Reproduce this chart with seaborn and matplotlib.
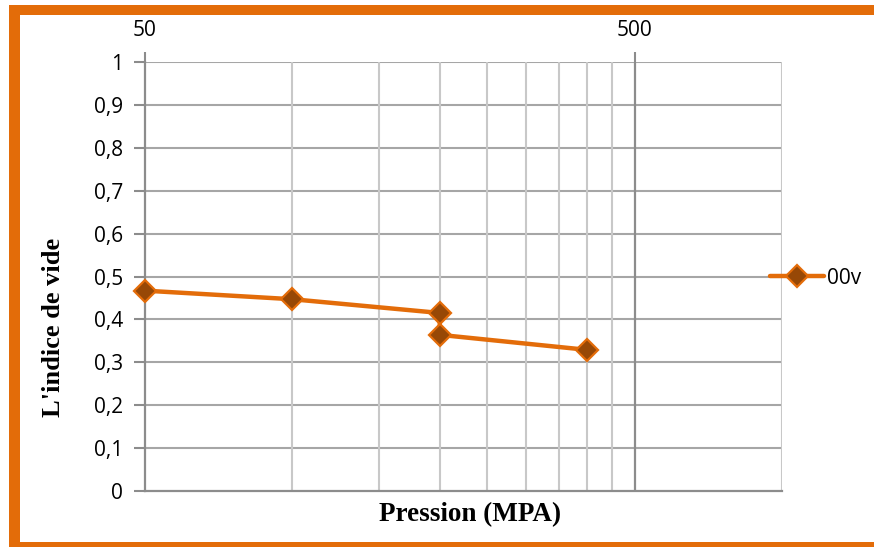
import matplotlib
matplotlib.use("Agg")
import matplotlib.pyplot as plt
from matplotlib.patches import Rectangle
from matplotlib.ticker import FixedLocator, NullFormatter, FixedFormatter
import seaborn as sns
import pandas as pd

# Oedometer-type data: void ratio versus applied pressure
pressure = [50, 100, 200, 200, 400]
void_ratio = [0.467, 0.447, 0.415, 0.364, 0.329]
series_name = "00v"
x_major = [50, 500]
x_minor = [100, 150, 200, 250, 300, 350, 400, 450]
y_ticks = [0, 0.1, 0.2, 0.3, 0.4, 0.5, 0.6, 0.7, 0.8, 0.9, 1.0]
y_labels = ["0", "0,1", "0,2", "0,3", "0,4", "0,5", "0,6", "0,7", "0,8", "0,9", "1"]

ORANGE = "#E36C09"
BROWN = "#974806"

sns.set_style("white")
plt.rcParams["font.family"] = ["Open Sans", "DejaVu Sans"]
plt.rcParams["text.color"] = "black"

W, H = 874, 547
fig = plt.figure(figsize=(W / 100, H / 100), dpi=100)
ax = fig.add_axes([145 / W, 1 - 491 / H, (782 - 145) / W, (491 - 62) / H])

df = pd.DataFrame({"Pression": pressure, "Indice": void_ratio})
sns.lineplot(data=df, x="Pression", y="Indice", ax=ax, sort=False, estimator=None,
             color=ORANGE, linewidth=3.2, marker="D", markersize=11.5,
             markerfacecolor=BROWN, markeredgecolor=ORANGE, markeredgewidth=1.6,
             label=series_name, zorder=5, clip_on=False)

ax.set_xscale("log")
ax.set_xlim(50, 1000)
ax.set_ylim(0, 1)

# x axis: labels and ticks on top
ax.xaxis.set_major_locator(FixedLocator(x_major))
ax.xaxis.set_major_formatter(FixedFormatter([str(v) for v in x_major]))
ax.xaxis.set_minor_locator(FixedLocator(x_minor))
ax.xaxis.set_minor_formatter(NullFormatter())
ax.tick_params(axis="x", which="major", top=True, labeltop=True, bottom=False,
               labelbottom=False, length=7, width=1.5, color="#8c8c8c",
               labelcolor="black", labelsize=15, pad=8, direction="out")
ax.tick_params(axis="x", which="minor", top=False, bottom=False)

ax.set_yticks(y_ticks)
ax.set_yticklabels(y_labels)
ax.tick_params(axis="y", left=True, length=8, width=1.5, color="#8c8c8c",
               labelcolor="black", labelsize=15, pad=8, direction="out")

# grid
ax.grid(False)
for v in y_ticks[1:]:
    ax.axhline(v, color="#a6a6a6", lw=1.5, zorder=1)
for v in x_minor:
    ax.axvline(v, color="#c8c8c8", lw=1.5, zorder=1)
ax.axvline(500, color="#8c8c8c", lw=1.6, zorder=1)
ax.axvline(1000, color="#c8c8c8", lw=1.5, zorder=1)

for s in ["top", "right"]:
    ax.spines[s].set_visible(False)
for s in ["left", "bottom"]:
    ax.spines[s].set_color("#8c8c8c")
    ax.spines[s].set_linewidth(1.6)

ax.set_xlabel("")
ax.set_ylabel("")
fig.text(470 / W, 1 - 515 / H, "Pression (MPA)", ha="center", va="center",
         fontsize=19.5, fontweight="bold", family="Liberation Serif", color="black")
fig.text(54 / W, 1 - 327 / H, "L'indice de vide", ha="center", va="center",
         rotation=90, fontsize=19, fontweight="bold", family="Liberation Serif",
         color="black")

leg = ax.legend(loc="center left", bbox_to_anchor=(770 / W, 1 - 278 / H),
                bbox_transform=fig.transFigure, frameon=False, fontsize=15,
                handlelength=2.6, handletextpad=0.15, borderpad=0, borderaxespad=0)
for t in leg.get_texts():
    t.set_color("black")

# orange frame around the chart
for (x0, y0, w, h) in [(9, 5, W, 10), (9, 5, 11, H), (9, 542, W, 10)]:
    fig.patches.append(Rectangle((x0 / W, 1 - (y0 + h) / H), w / W, h / H,
                                 transform=fig.transFigure, facecolor=ORANGE,
                                 edgecolor="none", zorder=10))

fig.savefig("out.png", dpi=100)
